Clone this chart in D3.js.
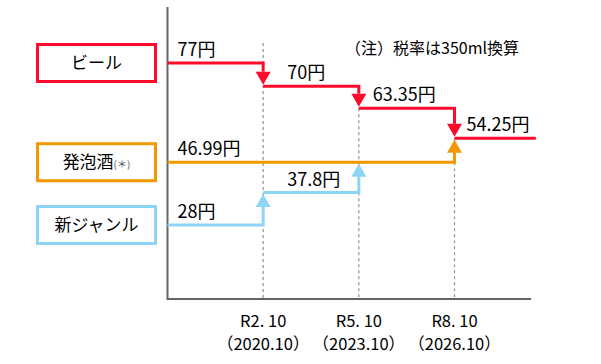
<!DOCTYPE html>
<html lang="ja">
  <head>
    <meta charset="UTF-8" />
    <title>酒税の推移</title>
    <style>
      body {
        margin: 0;
        padding: 0;
        background-color: #ffffff;
      }
      #chart {
        width: 601px;
        height: 364px;
      }
      text {
        font-family: "Noto Sans CJK JP", sans-serif;
        fill: #000;
      }
    </style>
  </head>
  <body>
    <div id="chart"></div>

    <script src="https://d3js.org/d3.v7.min.js"></script>
    <script>
      // 改正時期 (x軸)
      const periods = ["R2. 10", "R5. 10", "R8. 10"];
      const periodYears = ["（2020.10）", "（2023.10）", "（2026.10）"];

      // 税額 (円/350ml) : 開始時点 + 各改正後
      const beerValues = [77, 70, 63.35, 54.25];
      const happoshuValues = [46.99, 46.99, 46.99, 54.25];
      const newGenreValues = [28, 37.8, 46.99];

      const seriesNames = ["ビール", "発泡酒", "新ジャンル"];
      const noteText = "（注）税率は350ml換算";

      const width = 601,
        height = 364;
      const colors = ["#ff0a2a", "#f39800", "#8dd5f6"];

      const svg = d3
        .select("#chart")
        .append("svg")
        .attr("width", width)
        .attr("height", height);

      // index 0 = start, 1..3 = periods
      const x = d3.scaleLinear().domain([0, 3]).range([167.5, 454.5]);
      const y = d3.scaleLinear().domain([28, 77]).range([225, 63]);
      const xEnd = 3.85;
      const axisBottomY = 299;

      // dashed guides (first one reaches above the beer line)
      svg
        .selectAll("line.guide")
        .data(periods)
        .enter()
        .append("line")
        .attr("class", "guide")
        .attr("x1", (d, i) => x(i + 1))
        .attr("x2", (d, i) => x(i + 1))
        .attr("y1", (d, i) => (i === 0 ? 43 : y(beerValues[i + 1])))
        .attr("y2", axisBottomY)
        .attr("stroke", "#999")
        .attr("stroke-width", 1.3)
        .attr("stroke-dasharray", "3,3");

      // axes
      svg
        .append("path")
        .attr("d", `M${x(0)},7V${axisBottomY}H${x(3.8)}`)
        .attr("fill", "none")
        .attr("stroke", "#666")
        .attr("stroke-width", 2);

      // x labels
      const xl = svg
        .selectAll("g.xlabel")
        .data(periods)
        .enter()
        .append("g")
        .attr("class", "xlabel")
        .attr("transform", (d, i) => `translate(${x(i + 1)},0)`);
      xl.append("text")
        .attr("y", 327)
        .attr("text-anchor", "middle")
        .style("font-size", "16.5px")
        .text((d) => d);
      xl.append("text")
        .attr("y", 350)
        .attr("text-anchor", "middle")
        .style("font-size", "16.5px")
        .text((d, i) => periodYears[i]);

      // step series
      const labelShift = [10, 24, 14, 12];
      const arrowW = 15,
        arrowH = 13;

      function drawSeries(values, color, opts) {
        const g = svg.append("g");
        let d = `M${x(0)},${y(values[0])}`;
        const heads = [];
        for (let i = 1; i < values.length; i++) {
          const xi = x(i);
          d += `H${xi}`;
          if (values[i] !== values[i - 1]) {
            const up = values[i] > values[i - 1];
            const tip = y(values[i]) + (up ? 1.5 : -1.5);
            const base = up ? tip + arrowH : tip - arrowH;
            d += `V${base}`;
            heads.push({ xi, tip, base });
            d += `M${xi},${y(values[i])}`;
          }
        }
        if (opts.extend) d += `H${x(xEnd)}`;
        g.append("path")
          .attr("d", d)
          .attr("fill", "none")
          .attr("stroke", color)
          .attr("stroke-width", 3);
        g.selectAll("path.head")
          .data(heads)
          .enter()
          .append("path")
          .attr("class", "head")
          .attr(
            "d",
            (h) =>
              `M${h.xi},${h.tip}L${h.xi - arrowW / 2},${h.base}L${h.xi + arrowW / 2},${h.base}Z`
          )
          .attr("fill", color);

        // value labels
        values.forEach((v, i) => {
          if (i > 0 && (v === values[i - 1] || !opts.labelAll)) return;
          if (opts.skipLast && i === values.length - 1) return;
          g.append("text")
            .attr("x", x(i) + labelShift[i])
            .attr("y", y(v) - 7)
            .style("font-size", "18px")
            .text(v + "円");
        });
      }

      drawSeries(happoshuValues, colors[1], { labelAll: false });
      drawSeries(newGenreValues, colors[2], { labelAll: true, skipLast: true });
      drawSeries(beerValues, colors[0], { labelAll: true, extend: true });

      // legend boxes
      const startValues = [beerValues[0], happoshuValues[0], newGenreValues[0]];
      const boxes = svg
        .selectAll("g.box")
        .data(seriesNames)
        .enter()
        .append("g")
        .attr("class", "box")
        .attr("transform", (d, i) => `translate(96.5,${y(startValues[i])})`);
      boxes
        .append("rect")
        .attr("x", -59)
        .attr("y", -18.5)
        .attr("width", 118)
        .attr("height", 37)
        .attr("fill", "#fff")
        .attr("stroke", (d, i) => colors[i])
        .attr("stroke-width", 3);
      const bt = boxes
        .append("text")
        .attr("y", 6)
        .attr("text-anchor", "middle")
        .style("font-size", "17px");
      bt.append("tspan").text((d) => d);
      bt.filter((d, i) => i === 1)
        .append("tspan")
        .style("font-size", "10px")
        .style("fill", "#555")
        .text("(＊)");

      // note
      svg
        .append("text")
        .attr("x", 345)
        .attr("y", 54)
        .style("font-size", "16px")
        .text(noteText);
    </script>
  </body>
</html>
